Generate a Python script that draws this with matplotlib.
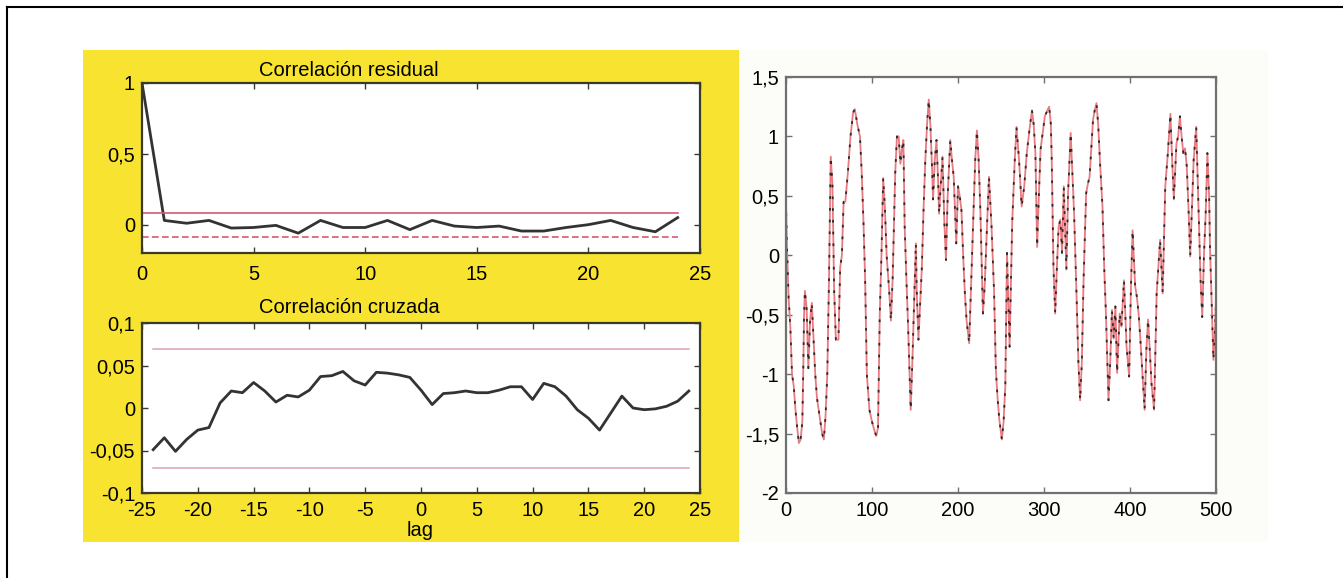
import matplotlib
matplotlib.use('Agg')
import matplotlib.pyplot as plt
from matplotlib.patches import Rectangle
from matplotlib.lines import Line2D

plt.rcParams['font.family'] = ['Liberation Sans', 'DejaVu Sans']
plt.rcParams['axes.unicode_minus'] = False

# ---------- data ----------
lags_res = list(range(0, 25))
corr_res = [1.0, 0.03, 0.01, 0.03, -0.024, -0.02, -0.005, -0.06, 0.03, -0.02,
            -0.02, 0.03, -0.035, 0.03, -0.01, -0.02, -0.01, -0.045, -0.045, -0.02,
            0.0, 0.03, -0.02, -0.05, 0.05]
conf_res_hi = 0.08
conf_res_lo = -0.085

lags_cross = list(range(-24, 25))
corr_cross = [-0.049, -0.035, -0.051, -0.037, -0.026, -0.023, 0.006, 0.020, 0.018, 0.030,
              0.020, 0.007, 0.015, 0.013, 0.021, 0.037, 0.038, 0.043, 0.032, 0.027,
              0.042, 0.041, 0.039, 0.036, 0.021, 0.004, 0.017, 0.018, 0.020, 0.018,
              0.018, 0.021, 0.025, 0.025, 0.010, 0.029, 0.025, 0.014, -0.002, -0.012,
              -0.026, -0.006, 0.014, 0.0, -0.002, -0.001, 0.002, 0.008, 0.020]
conf_cross = 0.07

t_serie = [0, 1, 3, 5, 7, 9, 11, 13, 15, 17, 19, 20, 21, 22, 24, 26, 28, 30, 32, 34,
           36, 39, 42, 44, 46, 48, 50, 52, 54, 56, 58, 61, 63, 65, 67, 69, 72, 75, 78, 80,
           83, 86, 88, 90, 92, 94, 97, 100, 103, 105, 107, 109, 111, 113, 115, 117, 120, 122, 124, 126,
           127, 129, 131, 133, 135, 136.5, 138, 140, 142, 145, 147, 149, 151, 152, 154, 156, 158, 160, 162, 164,
           166, 168, 170, 171, 173, 175, 177, 178, 180, 182, 184, 186, 188, 191, 193, 195, 197, 198, 200, 202,
           204, 206, 208, 210, 213, 215, 218, 220, 222, 224, 226, 229, 231, 234, 236, 239, 242, 244, 246, 248,
           251, 253, 255, 257, 260, 263, 266, 268, 271, 274, 277, 280, 283, 286, 288, 290, 292, 294, 296, 298,
           301, 304, 306, 308, 309, 311, 313, 315, 317, 319, 321, 323, 326, 328, 331, 333, 335, 338, 340, 342,
           344, 346, 349, 351, 353, 355, 357, 359, 361, 363, 365, 368, 370, 372, 375, 377, 379, 381, 383, 385,
           388, 390, 393, 396, 399, 401, 403, 406, 408, 410, 412, 414, 417, 419, 421, 423, 425, 428, 431, 433,
           435, 438, 441, 444, 447, 449, 451, 454, 456, 458, 460, 462, 464, 466, 468, 470, 472, 474, 477, 480,
           482, 484, 486, 488, 490, 492, 493, 495, 497, 499, 500]
y_serie = [0.45, 0.1, -0.35, -0.6, -1.0, -1.1, -1.3, -1.45, -1.58, -1.55, -1.4, -1.0, -0.5, -0.3, -0.45, -0.95, -0.55, -0.4, -0.7, -1.0,
           -1.2, -1.35, -1.5, -1.55, -1.35, -1.0, -0.2, 0.83, 0.6, -0.3, -0.71, -0.71, -0.1, 0.0, 0.45, 0.45, 0.7, 1.0, 1.2, 1.23,
           1.1, 1.0, 0.7, 0.3, -0.2, -1.0, -1.3, -1.4, -1.48, -1.52, -1.45, -0.5, 0.0, 0.65, 0.4, 0.0, -0.3, -0.55, -0.2, 0.4,
           0.69, 1.0, 1.0, 0.77, 0.9, 0.97, 0.24, -0.2, -0.6, -1.3, -0.88, -0.4, 0.1, -0.3, -0.71, -0.4, -0.1, 0.4, 0.8, 1.1,
           1.31, 1.08, 0.7, 0.47, 0.8, 0.97, 0.6, 0.35, 0.6, 0.83, 0.3, -0.04, 0.5, 0.97, 0.8, 0.66, 0.3, 0.1, 0.58, 0.5,
           0.38, 0.0, -0.32, -0.55, -0.74, -0.3, 0.35, 0.8, 1.05, 0.8, 0.38, -0.49, -0.26, 0.3, 0.66, 0.24, -0.32, -0.96, -1.2, -1.38,
           -1.55, -1.4, -1.1, 0.02, -0.77, 0.27, 0.8, 1.08, 0.8, 0.41, 0.58, 0.86, 1.05, 1.22, 1.1, 0.86, 0.07, 0.5, 0.89, 1.0,
           1.17, 1.22, 1.25, 1.1, 0.8, -0.1, -0.49, -0.1, 0.24, 0.3, 0.02, 0.58, -0.12, 0.52, 1.03, 0.7, 0.35, -0.38, -0.9, -1.22,
           -0.9, -0.21, 0.52, 0.6, 0.66, 0.9, 1.14, 1.22, 1.28, 1.1, 0.8, 0.41, -0.1, -0.49, -1.22, -0.9, -0.46, -0.7, -0.43, -0.99,
           -0.49, -0.6, -0.21, -0.77, -1.02, -0.3, 0.21, -0.26, -0.35, -0.49, -0.7, -0.94, -1.3, -0.8, -0.54, -0.8, -1.08, -1.3, -0.32, -0.1,
           0.13, -0.32, 0.58, 0.86, 1.19, 0.8, 0.47, 0.94, 1.0, 1.17, 1.0, 0.86, 0.9, 0.75, 0.4, -0.01, 0.4, 0.8, 1.08, 0.3,
           -0.2, -0.52, 0.0, 0.35, 0.86, 0.5, 0.07, -0.4, -0.88, -0.6, -0.38]

res_xticks = [0, 5, 10, 15, 20, 25]
res_yticks = [0, 0.5, 1]
res_ylabels = ['0', '0,5', '1']
cross_xticks = [-25, -20, -15, -10, -5, 0, 5, 10, 15, 20, 25]
cross_yticks = [-0.1, -0.05, 0, 0.05, 0.1]
cross_ylabels = ['-0,1', '-0,05', '0', '0,05', '0,1']
ser_xticks = [0, 100, 200, 300, 400, 500]
ser_yticks = [-2, -1.5, -1, -0.5, 0, 0.5, 1, 1.5]
ser_ylabels = ['-2', '-1,5', '-1', '-0,5', '0', '0,5', '1', '1,5']

# ---------- figure ----------
W, H = 1343, 578
fig = plt.figure(figsize=(W / 100, H / 100), dpi=100)


def px_axes(x0, y0, x1, y1):
    return fig.add_axes([x0 / W, 1 - y1 / H, (x1 - x0) / W, (y1 - y0) / H])


def px_rect(x0, y0, x1, y1, color):
    fig.add_artist(Rectangle((x0 / W, 1 - y1 / H), (x1 - x0) / W, (y1 - y0) / H,
                             transform=fig.transFigure, facecolor=color, edgecolor='none', zorder=0))


# frame lines (top, left)
fig.add_artist(Line2D([7 / W, 1], [1 - 7 / H, 1 - 7 / H], color='black', lw=1.5))
fig.add_artist(Line2D([7 / W, 7 / W], [0, 1 - 7 / H], color='black', lw=1.5))

px_rect(83, 50, 739, 542, '#f8e430')
px_rect(739, 50, 1268, 542, '#fcfcf9')

FS = 14.5


def style(ax, spine_col):
    ax.set_facecolor('white')
    for s in ax.spines.values():
        s.set_color(spine_col)
        s.set_linewidth(1.6)
    ax.tick_params(direction='in', length=4, width=1, colors=spine_col,
                   top=True, right=True, labelsize=FS, labelcolor='black', pad=5)


# residual autocorrelation
ax1 = px_axes(142, 83, 700, 253)
ax1.plot(lags_res, corr_res, color='#333333', lw=2)
ax1.plot([lags_res[0], lags_res[-1]], [conf_res_hi] * 2, color='#d65a72', lw=1.2)
ax1.plot([lags_res[0], lags_res[-1]], [conf_res_lo] * 2, color='#d65a72', lw=1.2, ls=(0, (4, 2)))
ax1.set_xlim(0, 25)
ax1.set_ylim(-0.2, 1)
ax1.set_xticks(res_xticks)
ax1.set_yticks(res_yticks)
ax1.set_yticklabels(res_ylabels)
style(ax1, '#3a3a2a')
ax1.tick_params(axis='x', pad=9)
fig.text(349 / W, 1 - 70 / H, 'Correlación residual', ha='center', va='center', fontsize=FS)

# cross correlation
ax2 = px_axes(142, 323, 700, 493)
ax2.plot(lags_cross, corr_cross, color='#333333', lw=2)
ax2.plot([lags_cross[0], lags_cross[-1]], [conf_cross] * 2, color='#dba3b3', lw=1.1)
ax2.plot([lags_cross[0], lags_cross[-1]], [-conf_cross] * 2, color='#dba3b3', lw=1.1)
ax2.set_xlim(-25, 25)
ax2.set_ylim(-0.1, 0.1)
ax2.set_xticks(cross_xticks)
ax2.set_yticks(cross_yticks)
ax2.set_yticklabels(cross_ylabels)
style(ax2, '#3a3a2a')
ax2.tick_params(axis='x', pad=6)
fig.text(349 / W, 1 - 308 / H, 'Correlación cruzada', ha='center', va='center', fontsize=FS)
fig.text(420 / W, 1 - 530 / H, 'lag', ha='center', va='center', fontsize=FS)

# series
ax3 = px_axes(786, 77, 1216, 493)
ax3.plot(t_serie, y_serie, color='#e87a80', lw=1.3)
ax3.plot(t_serie, y_serie, color='#2a2a2a', lw=1.3, ls=(0, (1.5, 5)))
ax3.set_xlim(0, 500)
ax3.set_ylim(-2, 1.5)
ax3.set_xticks(ser_xticks)
ax3.set_yticks(ser_yticks)
ax3.set_yticklabels(ser_ylabels)
style(ax3, '#707070')
ax3.tick_params(axis='x', pad=6)

fig.savefig('out.png', dpi=100)
